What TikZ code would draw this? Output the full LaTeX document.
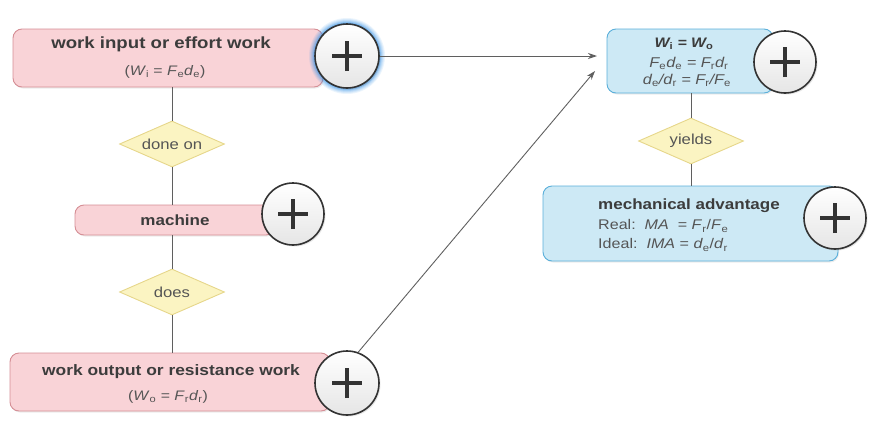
\documentclass[tikz,border=0pt]{standalone}
\usepackage{fontspec}
\setmainfont{Liberation Sans}[FakeStretch=1.15]
\usetikzlibrary{shapes.geometric,arrows.meta,shadows}
\definecolor{pinkfill}{HTML}{F9D3D7}
\definecolor{pinkdraw}{HTML}{D58E95}
\definecolor{bluefill}{HTML}{CDE9F5}
\definecolor{bluedraw}{HTML}{5AAFDA}
\definecolor{yelfill}{HTML}{FBF4C2}
\definecolor{yeldraw}{HTML}{E6D68A}
\definecolor{txt}{HTML}{3C3C3C}
\definecolor{txtl}{HTML}{555555}
\definecolor{linec}{HTML}{5F5F5F}
\definecolor{glow}{HTML}{3D95E6}
\tikzset{
  pinkbox/.style={draw=pinkdraw, fill=pinkfill, rounded corners=9pt, line width=0.9pt, inner sep=0pt,
     drop shadow={shadow xshift=1pt, shadow yshift=-1.5pt, opacity=0.15}},
  bluebox/.style={draw=bluedraw, fill=bluefill, rounded corners=9pt, line width=0.9pt, inner sep=0pt,
     drop shadow={shadow xshift=1pt, shadow yshift=-1.5pt, opacity=0.15}},
  decision/.style={diamond, aspect=2.28, draw=yeldraw, fill=yelfill, line width=0.9pt, inner sep=0pt,
     minimum width=105pt, minimum height=46pt, text=txtl, font=\fontsize{14.5}{16}\selectfont},
  lab/.style={text=txt, align=center, inner sep=0pt},
  labl/.style={text=txtl, align=center, inner sep=0pt},
  conn/.style={draw=linec, line width=0.9pt},
  arr/.style={conn, -{Stealth[length=9pt,width=6pt]}},
  plusc/.style={circle, draw=black!80, line width=1.6pt, minimum size=#1, inner sep=0pt,
     top color=white, bottom color=black!10,
     drop shadow={shadow xshift=1.5pt, shadow yshift=-1.5pt, opacity=0.2}},
  plusc/.default=63pt,
}
\newcommand{\sbup}[1]{\textsubscript{\upshape\mdseries #1}}
\newcommand{\plussign}[1]{%
  \draw[black!80, line width=3.2pt] ([xshift=-15pt]#1.center) -- ([xshift=15pt]#1.center);
  \draw[black!80, line width=3.2pt] ([yshift=-15pt]#1.center) -- ([yshift=15pt]#1.center);}
\begin{document}
\begin{tikzpicture}[x=1pt,y=-1pt]
\useasboundingbox (0,0) rectangle (876,426);
% boxes
\node[pinkbox, minimum width=310pt, minimum height=58pt] (win) at (168,58) {};
\node[lab, font=\fontsize{16.2}{18}\selectfont\bfseries] (winT) at (161,44) {work input or effort work};
\node[labl, font=\fontsize{13.8}{17}\selectfont] (winF) at (165,72) {(\textit{W}\sbup{i} = \textit{F}\sbup{e}\textit{d}\sbup{e})};

\node[decision] (doneon) at (172,144) {done on};

\node[pinkbox, minimum width=200pt, minimum height=30pt] (mach) at (175,220) {};
\node[lab, font=\fontsize{14.8}{17}\selectfont\bfseries] (machT) at (175,220) {machine};

\node[decision] (does) at (172,292) {does};

\node[pinkbox, minimum width=320pt, minimum height=58pt] (wout) at (170,382) {};
\node[lab, font=\fontsize{15.1}{17}\selectfont\bfseries] (woutT) at (171,372) {work output or resistance work};
\node[labl, font=\fontsize{13.8}{17}\selectfont] (woutF) at (168,397) {(\textit{W}\sbup{o} = \textit{F}\sbup{r}\textit{d}\sbup{r})};

\node[bluebox, minimum width=166pt, minimum height=64pt] (eq) at (690,61) {};
\node[lab, font=\fontsize{13.8}{16}\selectfont\bfseries\itshape] (eq1) at (684,44) {W\textsubscript{\upshape i} = W\textsubscript{\upshape o}};
\node[labl, font=\fontsize{14.2}{16}\selectfont\itshape] (eq2) at (689,63) {F\sbup{e}d\sbup{e} = F\sbup{r}d\sbup{r}};
\node[labl, font=\fontsize{14.2}{16}\selectfont\itshape] (eq3) at (687,80) {d\sbup{e}/d\sbup{r} = F\sbup{r}/F\sbup{e}};

\node[decision] (yields) at (691,141) {yields};

\node[bluebox, minimum width=295pt, minimum height=75pt] (ma) at (690.5,223.5) {};
\node[lab, font=\fontsize{14.8}{17}\selectfont\bfseries, anchor=west] (ma1) at (598,206) {mechanical advantage};
\node[labl, font=\fontsize{14}{17}\selectfont, anchor=west] (ma2) at (598,226) {Real:\ \ \textit{MA}\ \ = \textit{F}\sbup{r}/\textit{F}\sbup{e}};
\node[labl, font=\fontsize{14}{17}\selectfont, anchor=west] (ma3) at (598,245) {Ideal:\ \ \textit{IMA} = \textit{d}\sbup{e}/\textit{d}\sbup{r}};

% connectors
\draw[conn] (doneon.north |- win.south) -- (doneon.north);
\draw[conn] (doneon.south) -- (doneon.south |- mach.north);
\draw[conn] (does.north |- mach.south) -- (does.north);
\draw[conn] (does.south) -- (does.south |- wout.north);
\draw[conn] (yields.north |- eq.south) -- (yields.north);
\draw[conn] (yields.south) -- (yields.south |- ma.north);

% plus circles
\foreach \r/\o in {38/0.10,37/0.12,36/0.15,35/0.2,34/0.3,33/0.45}{
  \fill[glow, opacity=\o] (347,56) circle (\r);}
\node[plusc=64pt] (p1) at (347,56) {};
\plussign{p1}
\node[plusc=62pt] (p2) at (293,214) {};
\plussign{p2}
\node[plusc=64pt] (p3) at (347,383) {};
\plussign{p3}
\node[plusc=62pt] (p4) at (785,62) {};
\plussign{p4}
\node[plusc=62pt] (p5) at (835,218) {};
\plussign{p5}

\coordinate (t1) at (597,56);
\coordinate (t2) at (595,71);
\draw[arr] (p1.east) -- (t1);
\draw[arr] (p3.70) -- (t2);
\end{tikzpicture}
\end{document}
